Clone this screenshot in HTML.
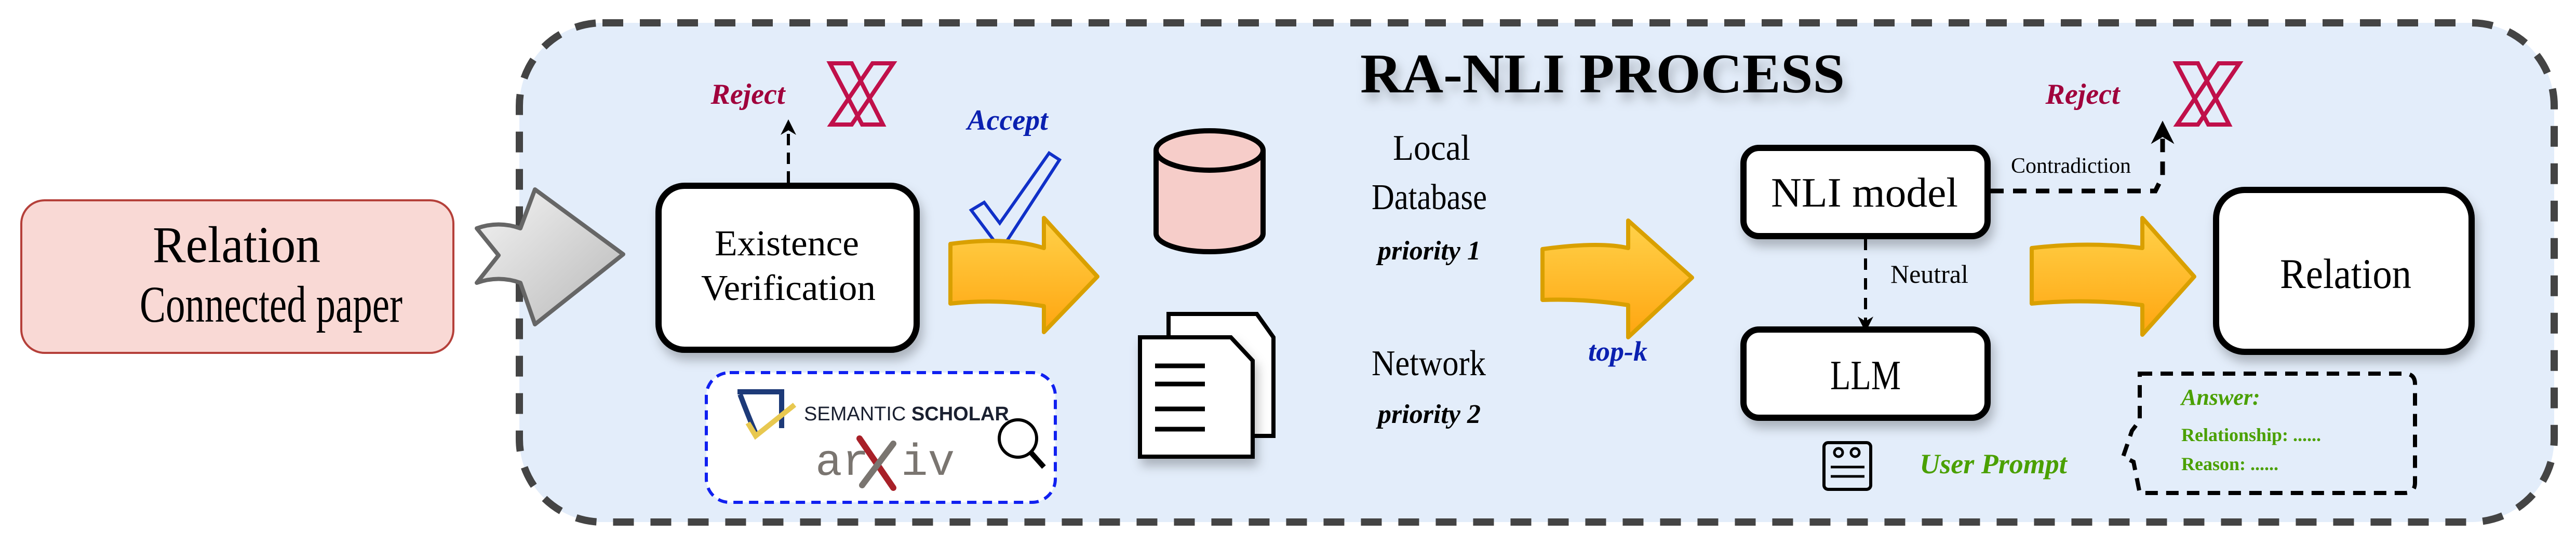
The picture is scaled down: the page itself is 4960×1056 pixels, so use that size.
<!DOCTYPE html>
<html><head><meta charset="utf-8"><style>
html,body{margin:0;padding:0;background:#fff;}
svg{display:block;}
</style></head><body>
<svg width="4960" height="1056" viewBox="0 0 4960 1056" xmlns="http://www.w3.org/2000/svg" font-family="Liberation Serif, serif">
<defs>
<linearGradient id="og" x1="0" y1="0" x2="0" y2="1"><stop offset="0" stop-color="#ffd24a"/><stop offset="1" stop-color="#ffa510"/></linearGradient>
<linearGradient id="gg" x1="0" y1="0" x2="1" y2="1"><stop offset="0" stop-color="#f4f4f4"/><stop offset="1" stop-color="#b8b8b8"/></linearGradient>
<filter id="sh" x="-20%" y="-20%" width="140%" height="150%"><feDropShadow dx="6" dy="14" stdDeviation="10" flood-color="#000" flood-opacity="0.25"/></filter>
<marker id="ah" viewBox="0 0 10 10" refX="5" refY="5" markerWidth="5" markerHeight="6" orient="auto"><path d="M0,0 L10,5 L0,10 L3,5 Z" fill="#000"/></marker>
</defs>
<!-- container -->
<rect x="1000" y="44" width="3918" height="962" rx="160" fill="#e3edfa" stroke="#444" stroke-width="14" stroke-dasharray="40,32"/>
<!-- left box -->
<rect x="41" y="386" width="832" height="294" rx="45" fill="#f9d9d5" stroke="#b5403a" stroke-width="4"/>
<text x="294" y="505" font-size="100" textLength="323" lengthAdjust="spacingAndGlyphs">Relation</text>
<text x="269" y="620" font-size="100" textLength="506" lengthAdjust="spacingAndGlyphs">Connected paper</text>
<!-- grey arrow -->
<path d="M918,440 Q960,425 1002,440 L1030,365 L1200,490 L1030,625 L1002,545 Q960,530 918,545 L960,492 Z" fill="url(#gg)" stroke="#666" stroke-width="8" stroke-linejoin="round"/>
<!-- existence box -->
<rect x="1268" y="358" width="497" height="316" rx="50" fill="#fff" stroke="#000" stroke-width="12" filter="url(#sh)"/>
<text x="1376" y="492" font-size="70" textLength="278" lengthAdjust="spacingAndGlyphs">Existence</text>
<text x="1350" y="578" font-size="70" textLength="336" lengthAdjust="spacingAndGlyphs">Verification</text>
<!-- reject left -->
<line x1="1518" y1="352" x2="1518" y2="245" stroke="#000" stroke-width="6" stroke-dasharray="22,14" marker-end="url(#ah)"/>
<text x="1440" y="200" font-size="56" font-weight="bold" font-style="italic" fill="#a0003c" text-anchor="middle">Reject</text>
<g stroke="#c0104a" stroke-width="8" fill="none"><path d="M1598,122 L1640,122 L1700,240 L1660,240 Z"/><path d="M1720,122 L1680,122 L1600,240 L1640,240 Z"/></g>
<!-- accept -->
<text x="1940" y="250" font-size="56" font-weight="bold" font-style="italic" fill="#0a20b0" text-anchor="middle">Accept</text>
<path d="M1870,405 L1895,390 L1925,430 L2020,295 L2040,308 L1935,470 L1915,465 Z" fill="none" stroke="#1030c8" stroke-width="6"/>
<!-- orange arrows -->
<g stroke="#d9a000" stroke-width="8" fill="url(#og)" stroke-linejoin="round">
<path d="M1830,470 Q1940,455 2010,478 L2010,420 L2113,533 L2010,640 L2010,590 Q1920,575 1830,585 Z"/>
<path d="M2970,480 Q3080,465 3135,478 L3135,425 L3258,535 L3135,650 L3135,588 Q3050,575 2970,578 Z"/>
<path d="M3912,478 Q4020,465 4125,478 L4125,420 L4225,533 L4125,645 L4125,588 Q4020,575 3912,585 Z"/>
</g>
<!-- cylinder -->
<path d="M2226,290 L2226,450 A103,35 0 0 0 2432,450 L2432,290" fill="#f6cdc9" stroke="#000" stroke-width="10"/>
<ellipse cx="2329" cy="290" rx="103" ry="38" fill="#f6cdc9" stroke="#000" stroke-width="10"/>
<!-- docs -->
<path d="M2250,605 L2420,605 L2452,650 L2452,840 L2250,840 Z" fill="#fff" stroke="#000" stroke-width="8"/>
<path d="M2195,650 L2370,650 L2412,695 L2412,880 L2195,880 Z" fill="#fff" stroke="#000" stroke-width="8" filter="url(#sh)"/>
<g stroke="#000" stroke-width="9"><line x1="2224" y1="705" x2="2320" y2="705"/><line x1="2224" y1="740" x2="2320" y2="740"/><line x1="2224" y1="788" x2="2320" y2="788"/><line x1="2224" y1="827" x2="2320" y2="827"/></g>
<!-- labels -->
<text x="2682" y="308" font-size="70" textLength="149" lengthAdjust="spacingAndGlyphs">Local</text>
<text x="2641" y="403" font-size="70" textLength="222" lengthAdjust="spacingAndGlyphs">Database</text>
<text x="2752" y="500" font-size="52" font-weight="bold" font-style="italic" text-anchor="middle">priority 1</text>
<text x="2641" y="723" font-size="70" textLength="220" lengthAdjust="spacingAndGlyphs">Network</text>
<text x="2752" y="815" font-size="52" font-weight="bold" font-style="italic" text-anchor="middle">priority 2</text>
<text x="2619" y="178" font-size="108" font-weight="bold" textLength="933" lengthAdjust="spacingAndGlyphs" filter="url(#sh)">RA-NLI PROCESS</text>
<text x="3115" y="695" font-size="54" font-weight="bold" font-style="italic" fill="#0a20b0" text-anchor="middle">top-k</text>
<!-- NLI & LLM -->
<rect x="3357" y="285" width="470" height="170" rx="30" fill="#fff" stroke="#000" stroke-width="12" filter="url(#sh)"/>
<text x="3410" y="398" font-size="80" textLength="360" lengthAdjust="spacingAndGlyphs">NLI model</text>
<rect x="3357" y="635" width="470" height="170" rx="30" fill="#fff" stroke="#000" stroke-width="12" filter="url(#sh)"/>
<text x="3524" y="750" font-size="80" textLength="136" lengthAdjust="spacingAndGlyphs">LLM</text>
<line x1="3592" y1="460" x2="3592" y2="625" stroke="#000" stroke-width="6" stroke-dasharray="22,16" marker-end="url(#ah)"/>
<text x="3640" y="545" font-size="50">Neutral</text>
<path d="M3832,368 L4150,368 L4164,340 L4164,255" fill="none" stroke="#000" stroke-width="9" stroke-dasharray="26,18" marker-end="url(#ah)"/>
<text x="3872" y="333" font-size="42">Contradiction</text>
<text x="4010" y="200" font-size="56" font-weight="bold" font-style="italic" fill="#a0003c" text-anchor="middle">Reject</text>
<g stroke="#c0104a" stroke-width="8" fill="none"><path d="M4190,122 L4232,122 L4292,240 L4252,240 Z"/><path d="M4312,122 L4272,122 L4192,240 L4232,240 Z"/></g>
<!-- Relation -->
<rect x="4267" y="366" width="492" height="312" rx="55" fill="#fff" stroke="#000" stroke-width="12" filter="url(#sh)"/>
<text x="4390" y="555" font-size="82" textLength="253" lengthAdjust="spacingAndGlyphs">Relation</text>
<!-- answer box -->
<path d="M4120,720 L4630,720 Q4650,720 4650,740 L4650,930 Q4650,950 4630,950 L4120,950 L4108,890 L4088,880 L4105,830 L4120,810 Z" fill="none" stroke="#000" stroke-width="8" stroke-dasharray="24,16"/>
<text x="4200" y="780" font-size="44" font-weight="bold" font-style="italic" fill="#4aa000">Answer:</text>
<text x="4200" y="850" font-size="36" font-weight="bold" fill="#4aa000">Relationship: ......</text>
<text x="4200" y="906" font-size="36" font-weight="bold" fill="#4aa000">Reason: ......</text>
<!-- user prompt -->
<rect x="3512" y="853" width="90" height="90" rx="8" fill="none" stroke="#000" stroke-width="6"/>
<g stroke="#000" stroke-width="5"><line x1="3525" y1="900" x2="3590" y2="900"/><line x1="3525" y1="918" x2="3590" y2="918"/><circle cx="3540" cy="872" r="8" fill="none"/><circle cx="3572" cy="872" r="8" fill="none"/></g>
<text x="3838" y="912" font-size="54" font-weight="bold" font-style="italic" fill="#4aa000" text-anchor="middle">User Prompt</text>
<!-- sources box -->
<rect x="1360" y="718" width="672" height="250" rx="45" fill="#fff" stroke="#1020f0" stroke-width="6" stroke-dasharray="18,12"/>
<path d="M1420,755 L1505,755 L1505,825 M1425,760 Q1440,800 1455,835" fill="none" stroke="#1d3a78" stroke-width="10"/>
<path d="M1440,815 L1455,840 L1530,780" fill="none" stroke="#e8c850" stroke-width="10"/>
<text x="1548" y="810" font-size="38" font-family="Liberation Sans, sans-serif" fill="#1a2030">SEMANTIC <tspan font-weight="bold">SCHOLAR</tspan></text>
<text x="1570" y="915" font-size="86" font-family="Liberation Mono, monospace" fill="#7a7570">ar</text>
<text x="1735" y="915" font-size="86" font-family="Liberation Mono, monospace" fill="#7a7570">iv</text>
<line x1="1655" y1="845" x2="1720" y2="940" stroke="#a82028" stroke-width="12" stroke-linecap="round"/>
<line x1="1720" y1="855" x2="1660" y2="935" stroke="#7a7570" stroke-width="12" stroke-linecap="round"/>
<circle cx="1960" cy="845" r="36" fill="none" stroke="#000" stroke-width="6"/>
<line x1="1985" y1="872" x2="2010" y2="900" stroke="#000" stroke-width="10"/>
</svg>
</body></html>
